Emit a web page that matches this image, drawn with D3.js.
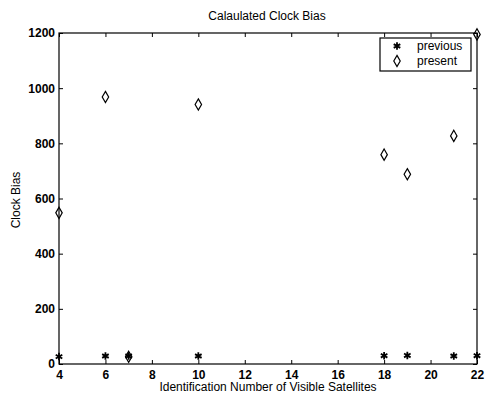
<html>
<script src='https://d3js.org/d3.v7.min.js'></script>
<style>
 body {margin:0; background:white;}
 text {font-family: 'Liberation Sans', Arial, sans-serif;}
 .tick text {font-size: 12px; font-weight: bold; fill: black;}
 .domain {stroke: none;}
 .tick line {stroke: black;}
</style>
<body onload='init()'>
<svg width=485 height=397></svg>
<script>
var satellites = [4, 6, 7, 10, 18, 19, 21, 22];
var previous = [27, 29, 29, 29, 30, 31, 29, 30];
var present = [548, 968, 26, 941, 759, 688, 827, 1195];
var xTicks = [4, 6, 8, 10, 12, 14, 16, 18, 20, 22];
var yTicks = [0, 200, 400, 600, 800, 1000, 1200];

function init() {
var left = 59, right = 477, top = 33, bottom = 364;
var xScale = d3.scaleLinear().domain([4, 22]).range([left, right]);
var yScale = d3.scaleLinear().domain([0, 1200]).range([bottom, top]);
var svg = d3.select('svg');

svg.append('g')
  .attr('transform', 'translate(0,' + bottom + ')')
  .call(d3.axisBottom(xScale).tickValues(xTicks).tickSizeInner(-4).tickSizeOuter(0).tickPadding(6))
  .attr('font-family', null).attr('font-size', null);
svg.append('g')
  .attr('transform', 'translate(0,' + top + ')')
  .call(d3.axisTop(xScale).tickValues(xTicks).tickSizeInner(-4).tickSizeOuter(0).tickFormat(''));
svg.append('g')
  .attr('transform', 'translate(' + left + ',0)')
  .call(d3.axisLeft(yScale).tickValues(yTicks).tickFormat(d3.format('d')).tickSizeInner(-4).tickSizeOuter(0).tickPadding(4))
  .attr('font-family', null).attr('font-size', null);
svg.append('g')
  .attr('transform', 'translate(' + right + ',0)')
  .call(d3.axisRight(yScale).tickValues(yTicks).tickSizeInner(-4).tickSizeOuter(0).tickFormat(''));

svg.append('rect')
  .attr('x', left).attr('y', top)
  .attr('width', right - left).attr('height', bottom - top)
  .attr('fill', 'none').attr('stroke', 'black').attr('stroke-width', 1.2);

var star = d3.symbol().type(d3.symbolAsterisk || d3.symbolCross).size(40);
var diamond = d3.symbol().type(d3.symbolDiamond).size(36);

svg.append('g').selectAll('path')
  .data(satellites)
  .enter().append('path')
  .attr('d', star)
  .attr('transform', function(d, i) {return 'translate(' + xScale(d) + ',' + yScale(previous[i]) + ')';})
  .attr('fill', 'black').attr('stroke', 'black').attr('stroke-width', 1.8);

svg.append('g').selectAll('path')
  .data(satellites)
  .enter().append('path')
  .attr('d', diamond)
  .attr('transform', function(d, i) {return 'translate(' + xScale(d) + ',' + yScale(present[i]) + ')';})
  .attr('fill', 'none').attr('stroke', 'black').attr('stroke-width', 1.2);

// legend
var lg = svg.append('g');
lg.append('rect').attr('x', 380).attr('y', 38).attr('width', 91).attr('height', 33)
  .attr('fill', 'white').attr('stroke', 'black').attr('stroke-width', 1.2);
var names = ['previous', 'present'];
names.forEach(function(n, i) {
  var y = 46 + i * 15;
  lg.append('path')
    .attr('d', i == 0 ? star() : diamond())
    .attr('transform', 'translate(397,' + y + ')')
    .attr('fill', i == 0 ? 'black' : 'none').attr('stroke', 'black')
    .attr('stroke-width', i == 0 ? 1.8 : 1.2);
  lg.append('text').attr('x', 417).attr('y', y + 4)
    .attr('font-size', 12).text(n);
});

svg.append('text').attr('x', 267).attr('y', 20).attr('text-anchor', 'middle')
  .attr('font-size', 12).text('Calaulated Clock Bias');
svg.append('text').attr('x', 268).attr('y', 391).attr('text-anchor', 'middle')
  .attr('font-size', 12).text('Identification Number of Visible Satellites');
svg.append('text').attr('transform', 'translate(20,200) rotate(-90)').attr('text-anchor', 'middle')
  .attr('font-size', 12).text('Clock Bias');
}
</script>
</body>
</html>
